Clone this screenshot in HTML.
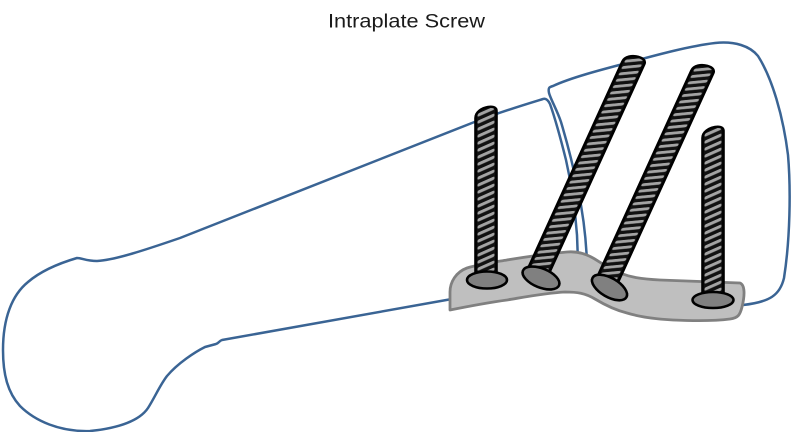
<!DOCTYPE html>
<html>
<head>
<meta charset="utf-8">
<style>
  html, body { margin: 0; padding: 0; background: #ffffff; }
  body { width: 791px; height: 432px; overflow: hidden; }
  svg { display: block; }
</style>
</head>
<body>
<svg width="791" height="432" viewBox="0 0 791 432" xmlns="http://www.w3.org/2000/svg">
  <defs>
    <pattern id="thrV" patternUnits="userSpaceOnUse" x="-10.5" y="0" width="21" height="7" patternTransform="skewY(-24)">
      <rect x="0" y="0" width="21" height="7" fill="#111"/>
      <rect x="2" y="2" width="17" height="3.2" rx="1.6" fill="#a3a3a3"/>
    </pattern>
    <pattern id="thrA" patternUnits="userSpaceOnUse" x="-10.5" y="0" width="21" height="7" patternTransform="skewY(-30)">
      <rect x="0" y="0" width="21" height="7" fill="#111"/>
      <rect x="2" y="2" width="17" height="3.2" rx="1.6" fill="#a3a3a3"/>
    </pattern>
  </defs>

  <!-- Title -->
  <text x="406.5" y="27.5" text-anchor="middle" font-family="'Liberation Sans', sans-serif" font-size="19.5" fill="#1a1a1a" textLength="157" lengthAdjust="spacingAndGlyphs">Intraplate Screw</text>

  <!-- Left bone -->
  <path d="M 452,299
           L 222,340
           C 219,341 219,343 216,344
           L 205,347
           C 195,352 178,363 167,376
           C 160,385 155,397 148,408
           C 140,420 120,428 90,431
           C 60,432 35,421 20,406
           C 8,393 3,375 3,350
           C 3,318 12,295 28,282
           C 42,270 60,263 77,258
           C 82,258 86,261 97,261
           C 115,260 145,250 180,238
           L 477,121
           C 500,112 530,103 543,99
           C 546,98 548,100 550,104
           C 555,118 561,140 566,160
           C 571,182 575,208 577,235
           L 578,262"
        fill="none" stroke="#3a6494" stroke-width="2.5" stroke-linejoin="round" stroke-linecap="round"/>

  <!-- Right bone -->
  <path d="M 587,262
           C 586,238 583,213 578,190
           C 573,165 567,142 561,122
           C 557,110 551,100 549,93
           C 548,88 549,87 553,86
           C 570,78 600,70 627,63
           C 660,54 690,46 715,43
           C 735,41 750,46 758,56
           C 772,78 783,115 788,155
           C 791,190 790,240 784,278
           C 780,295 770,302 743,305"
        fill="none" stroke="#3a6494" stroke-width="2.5" stroke-linejoin="round" stroke-linecap="round"/>

  <!-- Plate -->
  <path d="M 450,310
           L 450,292
           C 450,282 456,272 467,268
           C 480,264 495,262 507,260
           C 525,257 545,254 567,252
           C 578,251 586,254 593,258
           C 600,262 608,268 620,273
           C 630,277 640,279 660,280
           C 690,281 720,282 740,283
           C 745,285 745,295 742,307
           C 740,315 738,318 730,319
           C 715,321 695,321 673,320
           C 655,319 640,317 627,313
           C 615,310 605,305 595,299
           C 585,293 577,292 565,292
           C 545,293 525,297 507,300
           C 485,303 465,307 450,310 Z"
        fill="#bfbfbf" stroke="#808080" stroke-width="2.8" stroke-linejoin="round"/>

  <!-- Screw 1 (vertical, left) -->
  <g transform="translate(486,108)">
    <path d="M -10.5,172 V 10 C -10.5,4 -4,0 2,-1 C 8,-2 10.5,0 10.5,3 V 172 Z" fill="url(#thrV)" stroke="#000" stroke-width="2.6"/>
  </g>
  <!-- Screw 2 (angled) -->
  <g transform="translate(636,57) rotate(24.5)">
    <path d="M -10.5,238 V 10 C -10.5,4 -4,0 2,-1 C 8,-2 10.5,0 10.5,3 V 238 Z" fill="url(#thrA)" stroke="#000" stroke-width="2.6"/>
  </g>
  <!-- Screw 3 (angled) -->
  <g transform="translate(705,66) rotate(24.5)">
    <path d="M -10.5,235 V 10 C -10.5,4 -4,0 2,-1 C 8,-2 10.5,0 10.5,3 V 235 Z" fill="url(#thrA)" stroke="#000" stroke-width="2.6"/>
  </g>
  <!-- Screw 4 (vertical, right) -->
  <g transform="translate(713,128)">
    <path d="M -10.5,172 V 10 C -10.5,4 -4,0 2,-1 C 8,-2 10.5,0 10.5,3 V 172 Z" fill="url(#thrV)" stroke="#000" stroke-width="2.6"/>
  </g>

  <!-- Screw heads -->
  <ellipse cx="487" cy="280" rx="20" ry="8.5" fill="#808080" stroke="#000" stroke-width="2.6"/>
  <ellipse cx="541" cy="278" rx="19.5" ry="9.5" transform="rotate(22 541 278)" fill="#808080" stroke="#000" stroke-width="2.6"/>
  <ellipse cx="609.5" cy="287.5" rx="19.5" ry="9.5" transform="rotate(30 609.5 287.5)" fill="#808080" stroke="#000" stroke-width="2.6"/>
  <ellipse cx="713" cy="300" rx="20.5" ry="8" fill="#808080" stroke="#000" stroke-width="2.6"/>
</svg>
</body>
</html>
